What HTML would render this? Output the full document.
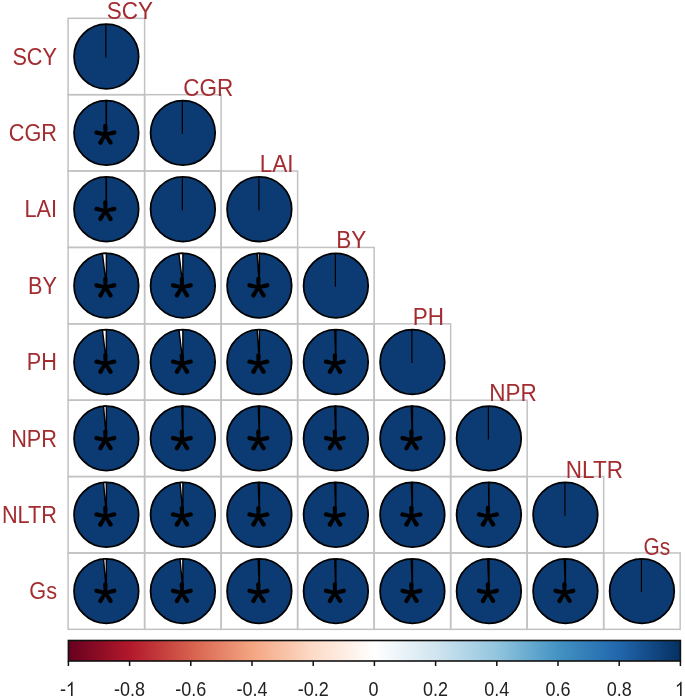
<!DOCTYPE html>
<html><head><meta charset="utf-8"><style>
html,body{margin:0;padding:0;background:#fff;}
body{width:685px;height:697px;overflow:hidden;}
svg{display:block;filter:blur(0.35px);}
.lab{font-family:"Liberation Sans",sans-serif;font-size:22.5px;fill:#a32c30;}
.star{font-family:"Liberation Sans",sans-serif;font-size:61px;fill:#000;stroke:#000;stroke-width:0.15px;}
.tick{font-family:"Liberation Sans",sans-serif;font-size:18px;fill:#222;}
</style></head><body>
<svg width="685" height="697" viewBox="0 0 685 697">
<defs><linearGradient id="g" x1="0" x2="1" y1="0" y2="0"><stop offset="0.00" stop-color="#67001F"/><stop offset="0.10" stop-color="#B2182B"/><stop offset="0.20" stop-color="#D6604D"/><stop offset="0.30" stop-color="#F4A582"/><stop offset="0.40" stop-color="#FDDBC7"/><stop offset="0.50" stop-color="#FFFFFF"/><stop offset="0.60" stop-color="#D1E5F0"/><stop offset="0.70" stop-color="#92C5DE"/><stop offset="0.80" stop-color="#4393C3"/><stop offset="0.90" stop-color="#2166AC"/><stop offset="1.00" stop-color="#053061"/></linearGradient></defs>
<rect width="685" height="697" fill="#fff"/>
<rect x="68.10" y="18.30" width="76.51" height="76.38" fill="none" stroke="#c2c2c2" stroke-width="1.5"/>
<rect x="68.10" y="94.68" width="76.51" height="76.38" fill="none" stroke="#c2c2c2" stroke-width="1.5"/>
<rect x="144.61" y="94.68" width="76.51" height="76.38" fill="none" stroke="#c2c2c2" stroke-width="1.5"/>
<rect x="68.10" y="171.06" width="76.51" height="76.38" fill="none" stroke="#c2c2c2" stroke-width="1.5"/>
<rect x="144.61" y="171.06" width="76.51" height="76.38" fill="none" stroke="#c2c2c2" stroke-width="1.5"/>
<rect x="221.12" y="171.06" width="76.51" height="76.38" fill="none" stroke="#c2c2c2" stroke-width="1.5"/>
<rect x="68.10" y="247.44" width="76.51" height="76.38" fill="none" stroke="#c2c2c2" stroke-width="1.5"/>
<rect x="144.61" y="247.44" width="76.51" height="76.38" fill="none" stroke="#c2c2c2" stroke-width="1.5"/>
<rect x="221.12" y="247.44" width="76.51" height="76.38" fill="none" stroke="#c2c2c2" stroke-width="1.5"/>
<rect x="297.63" y="247.44" width="76.51" height="76.38" fill="none" stroke="#c2c2c2" stroke-width="1.5"/>
<rect x="68.10" y="323.82" width="76.51" height="76.38" fill="none" stroke="#c2c2c2" stroke-width="1.5"/>
<rect x="144.61" y="323.82" width="76.51" height="76.38" fill="none" stroke="#c2c2c2" stroke-width="1.5"/>
<rect x="221.12" y="323.82" width="76.51" height="76.38" fill="none" stroke="#c2c2c2" stroke-width="1.5"/>
<rect x="297.63" y="323.82" width="76.51" height="76.38" fill="none" stroke="#c2c2c2" stroke-width="1.5"/>
<rect x="374.14" y="323.82" width="76.51" height="76.38" fill="none" stroke="#c2c2c2" stroke-width="1.5"/>
<rect x="68.10" y="400.20" width="76.51" height="76.38" fill="none" stroke="#c2c2c2" stroke-width="1.5"/>
<rect x="144.61" y="400.20" width="76.51" height="76.38" fill="none" stroke="#c2c2c2" stroke-width="1.5"/>
<rect x="221.12" y="400.20" width="76.51" height="76.38" fill="none" stroke="#c2c2c2" stroke-width="1.5"/>
<rect x="297.63" y="400.20" width="76.51" height="76.38" fill="none" stroke="#c2c2c2" stroke-width="1.5"/>
<rect x="374.14" y="400.20" width="76.51" height="76.38" fill="none" stroke="#c2c2c2" stroke-width="1.5"/>
<rect x="450.65" y="400.20" width="76.51" height="76.38" fill="none" stroke="#c2c2c2" stroke-width="1.5"/>
<rect x="68.10" y="476.58" width="76.51" height="76.38" fill="none" stroke="#c2c2c2" stroke-width="1.5"/>
<rect x="144.61" y="476.58" width="76.51" height="76.38" fill="none" stroke="#c2c2c2" stroke-width="1.5"/>
<rect x="221.12" y="476.58" width="76.51" height="76.38" fill="none" stroke="#c2c2c2" stroke-width="1.5"/>
<rect x="297.63" y="476.58" width="76.51" height="76.38" fill="none" stroke="#c2c2c2" stroke-width="1.5"/>
<rect x="374.14" y="476.58" width="76.51" height="76.38" fill="none" stroke="#c2c2c2" stroke-width="1.5"/>
<rect x="450.65" y="476.58" width="76.51" height="76.38" fill="none" stroke="#c2c2c2" stroke-width="1.5"/>
<rect x="527.16" y="476.58" width="76.51" height="76.38" fill="none" stroke="#c2c2c2" stroke-width="1.5"/>
<rect x="68.10" y="552.96" width="76.51" height="76.38" fill="none" stroke="#c2c2c2" stroke-width="1.5"/>
<rect x="144.61" y="552.96" width="76.51" height="76.38" fill="none" stroke="#c2c2c2" stroke-width="1.5"/>
<rect x="221.12" y="552.96" width="76.51" height="76.38" fill="none" stroke="#c2c2c2" stroke-width="1.5"/>
<rect x="297.63" y="552.96" width="76.51" height="76.38" fill="none" stroke="#c2c2c2" stroke-width="1.5"/>
<rect x="374.14" y="552.96" width="76.51" height="76.38" fill="none" stroke="#c2c2c2" stroke-width="1.5"/>
<rect x="450.65" y="552.96" width="76.51" height="76.38" fill="none" stroke="#c2c2c2" stroke-width="1.5"/>
<rect x="527.16" y="552.96" width="76.51" height="76.38" fill="none" stroke="#c2c2c2" stroke-width="1.5"/>
<rect x="603.67" y="552.96" width="76.51" height="76.38" fill="none" stroke="#c2c2c2" stroke-width="1.5"/>
<circle cx="106.35" cy="56.49" r="32.3" fill="#0c3a72" stroke="#000" stroke-width="1.75"/>
<path d="M105.85 57.49L105.85 24.19" stroke="#000" stroke-width="1.2"/>
<circle cx="106.35" cy="132.87" r="32.3" fill="#0c3a72" stroke="#000" stroke-width="1.75"/>
<path d="M106.35 132.87L106.35 100.57A32.3 32.3 0 0 0 106.07 100.57Z" fill="#fff" stroke="#000" stroke-width="1.45" stroke-linejoin="round"/>
<path d="M107.05 134.47L107.55 126.07A2.2 2.2 0 0 0 103.15 126.07L103.65 134.47ZM105.72 132.81L96.97 130.39A2.2 2.2 0 0 0 96.04 134.69L104.99 136.13ZM105.72 136.13L114.67 134.69A2.2 2.2 0 0 0 113.74 130.39L104.99 132.81ZM103.90 133.58L98.52 141.45A2.2 2.2 0 0 0 102.28 143.74L106.81 135.36ZM103.92 135.39L108.72 143.80A2.2 2.2 0 0 0 112.42 141.43L106.79 133.55Z" fill="#000"/><circle cx="105.35" cy="134.47" r="2.4" fill="#000"/>
<circle cx="182.87" cy="132.87" r="32.3" fill="#0c3a72" stroke="#000" stroke-width="1.75"/>
<path d="M182.37 133.87L182.37 100.57" stroke="#000" stroke-width="1.2"/>
<circle cx="106.35" cy="209.25" r="32.3" fill="#0c3a72" stroke="#000" stroke-width="1.75"/>
<path d="M106.35 209.25L106.35 176.95A32.3 32.3 0 0 0 106.07 176.95Z" fill="#fff" stroke="#000" stroke-width="1.45" stroke-linejoin="round"/>
<path d="M107.05 210.85L107.55 202.45A2.2 2.2 0 0 0 103.15 202.45L103.65 210.85ZM105.72 209.19L96.97 206.77A2.2 2.2 0 0 0 96.04 211.07L104.99 212.51ZM105.72 212.51L114.67 211.07A2.2 2.2 0 0 0 113.74 206.77L104.99 209.19ZM103.90 209.96L98.52 217.83A2.2 2.2 0 0 0 102.28 220.12L106.81 211.74ZM103.92 211.77L108.72 220.18A2.2 2.2 0 0 0 112.42 217.81L106.79 209.93Z" fill="#000"/><circle cx="105.35" cy="210.85" r="2.4" fill="#000"/>
<circle cx="182.87" cy="209.25" r="32.3" fill="#0c3a72" stroke="#000" stroke-width="1.75"/>
<path d="M182.37 210.25L182.37 176.95" stroke="#000" stroke-width="1.2"/>
<circle cx="259.38" cy="209.25" r="32.3" fill="#0c3a72" stroke="#000" stroke-width="1.75"/>
<path d="M258.88 210.25L258.88 176.95" stroke="#000" stroke-width="1.2"/>
<circle cx="106.35" cy="285.63" r="32.3" fill="#0c3a72" stroke="#000" stroke-width="1.75"/>
<path d="M106.35 285.63L106.35 253.33A32.3 32.3 0 0 0 102.42 253.57Z" fill="#fff" stroke="#000" stroke-width="1.45" stroke-linejoin="round"/>
<path d="M107.05 287.23L107.55 278.83A2.2 2.2 0 0 0 103.15 278.83L103.65 287.23ZM105.72 285.57L96.97 283.15A2.2 2.2 0 0 0 96.04 287.45L104.99 288.89ZM105.72 288.89L114.67 287.45A2.2 2.2 0 0 0 113.74 283.15L104.99 285.57ZM103.90 286.34L98.52 294.21A2.2 2.2 0 0 0 102.28 296.50L106.81 288.12ZM103.92 288.15L108.72 296.56A2.2 2.2 0 0 0 112.42 294.19L106.79 286.31Z" fill="#000"/><circle cx="105.35" cy="287.23" r="2.4" fill="#000"/>
<circle cx="182.87" cy="285.63" r="32.3" fill="#0c3a72" stroke="#000" stroke-width="1.75"/>
<path d="M182.87 285.63L182.87 253.33A32.3 32.3 0 0 0 178.93 253.57Z" fill="#fff" stroke="#000" stroke-width="1.45" stroke-linejoin="round"/>
<path d="M183.56 287.23L184.06 278.83A2.2 2.2 0 0 0 179.67 278.83L180.17 287.23ZM182.23 285.57L173.48 283.15A2.2 2.2 0 0 0 172.55 287.45L181.50 288.89ZM182.23 288.89L191.18 287.45A2.2 2.2 0 0 0 190.25 283.15L181.50 285.57ZM180.41 286.34L175.03 294.21A2.2 2.2 0 0 0 178.79 296.50L183.32 288.12ZM180.43 288.15L185.23 296.56A2.2 2.2 0 0 0 188.93 294.19L183.30 286.31Z" fill="#000"/><circle cx="181.87" cy="287.23" r="2.4" fill="#000"/>
<circle cx="259.38" cy="285.63" r="32.3" fill="#0c3a72" stroke="#000" stroke-width="1.75"/>
<path d="M259.38 285.63L259.38 253.33A32.3 32.3 0 0 0 257.12 253.41Z" fill="#fff" stroke="#000" stroke-width="1.45" stroke-linejoin="round"/>
<path d="M260.07 287.23L260.57 278.83A2.2 2.2 0 0 0 256.18 278.83L256.68 287.23ZM258.74 285.57L249.99 283.15A2.2 2.2 0 0 0 249.06 287.45L258.01 288.89ZM258.74 288.89L267.69 287.45A2.2 2.2 0 0 0 266.76 283.15L258.01 285.57ZM256.92 286.34L251.54 294.21A2.2 2.2 0 0 0 255.30 296.50L259.83 288.12ZM256.94 288.15L261.74 296.56A2.2 2.2 0 0 0 265.44 294.19L259.81 286.31Z" fill="#000"/><circle cx="258.38" cy="287.23" r="2.4" fill="#000"/>
<circle cx="335.88" cy="285.63" r="32.3" fill="#0c3a72" stroke="#000" stroke-width="1.75"/>
<path d="M335.38 286.63L335.38 253.33" stroke="#000" stroke-width="1.2"/>
<circle cx="106.35" cy="362.01" r="32.3" fill="#0c3a72" stroke="#000" stroke-width="1.75"/>
<path d="M106.35 362.01L106.35 329.71A32.3 32.3 0 0 0 102.42 329.95Z" fill="#fff" stroke="#000" stroke-width="1.45" stroke-linejoin="round"/>
<path d="M107.05 363.61L107.55 355.21A2.2 2.2 0 0 0 103.15 355.21L103.65 363.61ZM105.72 361.95L96.97 359.53A2.2 2.2 0 0 0 96.04 363.83L104.99 365.27ZM105.72 365.27L114.67 363.83A2.2 2.2 0 0 0 113.74 359.53L104.99 361.95ZM103.90 362.72L98.52 370.59A2.2 2.2 0 0 0 102.28 372.88L106.81 364.50ZM103.92 364.53L108.72 372.94A2.2 2.2 0 0 0 112.42 370.57L106.79 362.69Z" fill="#000"/><circle cx="105.35" cy="363.61" r="2.4" fill="#000"/>
<circle cx="182.87" cy="362.01" r="32.3" fill="#0c3a72" stroke="#000" stroke-width="1.75"/>
<path d="M182.87 362.01L182.87 329.71A32.3 32.3 0 0 0 178.93 329.95Z" fill="#fff" stroke="#000" stroke-width="1.45" stroke-linejoin="round"/>
<path d="M183.56 363.61L184.06 355.21A2.2 2.2 0 0 0 179.67 355.21L180.17 363.61ZM182.23 361.95L173.48 359.53A2.2 2.2 0 0 0 172.55 363.83L181.50 365.27ZM182.23 365.27L191.18 363.83A2.2 2.2 0 0 0 190.25 359.53L181.50 361.95ZM180.41 362.72L175.03 370.59A2.2 2.2 0 0 0 178.79 372.88L183.32 364.50ZM180.43 364.53L185.23 372.94A2.2 2.2 0 0 0 188.93 370.57L183.30 362.69Z" fill="#000"/><circle cx="181.87" cy="363.61" r="2.4" fill="#000"/>
<circle cx="259.38" cy="362.01" r="32.3" fill="#0c3a72" stroke="#000" stroke-width="1.75"/>
<path d="M259.38 362.01L259.38 329.71A32.3 32.3 0 0 0 257.12 329.79Z" fill="#fff" stroke="#000" stroke-width="1.45" stroke-linejoin="round"/>
<path d="M260.07 363.61L260.57 355.21A2.2 2.2 0 0 0 256.18 355.21L256.68 363.61ZM258.74 361.95L249.99 359.53A2.2 2.2 0 0 0 249.06 363.83L258.01 365.27ZM258.74 365.27L267.69 363.83A2.2 2.2 0 0 0 266.76 359.53L258.01 361.95ZM256.92 362.72L251.54 370.59A2.2 2.2 0 0 0 255.30 372.88L259.83 364.50ZM256.94 364.53L261.74 372.94A2.2 2.2 0 0 0 265.44 370.57L259.81 362.69Z" fill="#000"/><circle cx="258.38" cy="363.61" r="2.4" fill="#000"/>
<circle cx="335.88" cy="362.01" r="32.3" fill="#0c3a72" stroke="#000" stroke-width="1.75"/>
<path d="M335.88 362.01L335.88 329.71A32.3 32.3 0 0 0 334.76 329.73Z" fill="#fff" stroke="#000" stroke-width="1.45" stroke-linejoin="round"/>
<path d="M336.58 363.61L337.08 355.21A2.2 2.2 0 0 0 332.69 355.21L333.19 363.61ZM335.25 361.95L326.50 359.53A2.2 2.2 0 0 0 325.57 363.83L334.52 365.27ZM335.25 365.27L344.20 363.83A2.2 2.2 0 0 0 343.27 359.53L334.52 361.95ZM333.43 362.72L328.05 370.59A2.2 2.2 0 0 0 331.81 372.88L336.34 364.50ZM333.45 364.53L338.25 372.94A2.2 2.2 0 0 0 341.95 370.57L336.32 362.69Z" fill="#000"/><circle cx="334.88" cy="363.61" r="2.4" fill="#000"/>
<circle cx="412.39" cy="362.01" r="32.3" fill="#0c3a72" stroke="#000" stroke-width="1.75"/>
<path d="M411.89 363.01L411.89 329.71" stroke="#000" stroke-width="1.2"/>
<circle cx="106.35" cy="438.39" r="32.3" fill="#0c3a72" stroke="#000" stroke-width="1.75"/>
<path d="M106.35 438.39L106.35 406.09A32.3 32.3 0 0 0 103.54 406.21Z" fill="#fff" stroke="#000" stroke-width="1.45" stroke-linejoin="round"/>
<path d="M107.05 439.99L107.55 431.59A2.2 2.2 0 0 0 103.15 431.59L103.65 439.99ZM105.72 438.33L96.97 435.91A2.2 2.2 0 0 0 96.04 440.21L104.99 441.65ZM105.72 441.65L114.67 440.21A2.2 2.2 0 0 0 113.74 435.91L104.99 438.33ZM103.90 439.10L98.52 446.97A2.2 2.2 0 0 0 102.28 449.26L106.81 440.88ZM103.92 440.91L108.72 449.32A2.2 2.2 0 0 0 112.42 446.95L106.79 439.07Z" fill="#000"/><circle cx="105.35" cy="439.99" r="2.4" fill="#000"/>
<circle cx="182.87" cy="438.39" r="32.3" fill="#0c3a72" stroke="#000" stroke-width="1.75"/>
<path d="M182.87 438.39L182.87 406.09A32.3 32.3 0 0 0 181.74 406.11Z" fill="#fff" stroke="#000" stroke-width="1.45" stroke-linejoin="round"/>
<path d="M183.56 439.99L184.06 431.59A2.2 2.2 0 0 0 179.67 431.59L180.17 439.99ZM182.23 438.33L173.48 435.91A2.2 2.2 0 0 0 172.55 440.21L181.50 441.65ZM182.23 441.65L191.18 440.21A2.2 2.2 0 0 0 190.25 435.91L181.50 438.33ZM180.41 439.10L175.03 446.97A2.2 2.2 0 0 0 178.79 449.26L183.32 440.88ZM180.43 440.91L185.23 449.32A2.2 2.2 0 0 0 188.93 446.95L183.30 439.07Z" fill="#000"/><circle cx="181.87" cy="439.99" r="2.4" fill="#000"/>
<circle cx="259.38" cy="438.39" r="32.3" fill="#0c3a72" stroke="#000" stroke-width="1.75"/>
<path d="M259.38 438.39L259.38 406.09A32.3 32.3 0 0 0 258.25 406.11Z" fill="#fff" stroke="#000" stroke-width="1.45" stroke-linejoin="round"/>
<path d="M260.07 439.99L260.57 431.59A2.2 2.2 0 0 0 256.18 431.59L256.68 439.99ZM258.74 438.33L249.99 435.91A2.2 2.2 0 0 0 249.06 440.21L258.01 441.65ZM258.74 441.65L267.69 440.21A2.2 2.2 0 0 0 266.76 435.91L258.01 438.33ZM256.92 439.10L251.54 446.97A2.2 2.2 0 0 0 255.30 449.26L259.83 440.88ZM256.94 440.91L261.74 449.32A2.2 2.2 0 0 0 265.44 446.95L259.81 439.07Z" fill="#000"/><circle cx="258.38" cy="439.99" r="2.4" fill="#000"/>
<circle cx="335.88" cy="438.39" r="32.3" fill="#0c3a72" stroke="#000" stroke-width="1.75"/>
<path d="M335.88 438.39L335.88 406.09A32.3 32.3 0 0 0 334.76 406.11Z" fill="#fff" stroke="#000" stroke-width="1.45" stroke-linejoin="round"/>
<path d="M336.58 439.99L337.08 431.59A2.2 2.2 0 0 0 332.69 431.59L333.19 439.99ZM335.25 438.33L326.50 435.91A2.2 2.2 0 0 0 325.57 440.21L334.52 441.65ZM335.25 441.65L344.20 440.21A2.2 2.2 0 0 0 343.27 435.91L334.52 438.33ZM333.43 439.10L328.05 446.97A2.2 2.2 0 0 0 331.81 449.26L336.34 440.88ZM333.45 440.91L338.25 449.32A2.2 2.2 0 0 0 341.95 446.95L336.32 439.07Z" fill="#000"/><circle cx="334.88" cy="439.99" r="2.4" fill="#000"/>
<circle cx="412.39" cy="438.39" r="32.3" fill="#0c3a72" stroke="#000" stroke-width="1.75"/>
<path d="M412.39 438.39L412.39 406.09A32.3 32.3 0 0 0 411.27 406.11Z" fill="#fff" stroke="#000" stroke-width="1.45" stroke-linejoin="round"/>
<path d="M413.09 439.99L413.59 431.59A2.2 2.2 0 0 0 409.19 431.59L409.69 439.99ZM411.76 438.33L403.01 435.91A2.2 2.2 0 0 0 402.08 440.21L411.03 441.65ZM411.76 441.65L420.71 440.21A2.2 2.2 0 0 0 419.78 435.91L411.03 438.33ZM409.94 439.10L404.56 446.97A2.2 2.2 0 0 0 408.32 449.26L412.85 440.88ZM409.96 440.91L414.76 449.32A2.2 2.2 0 0 0 418.46 446.95L412.83 439.07Z" fill="#000"/><circle cx="411.39" cy="439.99" r="2.4" fill="#000"/>
<circle cx="488.90" cy="438.39" r="32.3" fill="#0c3a72" stroke="#000" stroke-width="1.75"/>
<path d="M488.40 439.39L488.40 406.09" stroke="#000" stroke-width="1.2"/>
<circle cx="106.35" cy="514.77" r="32.3" fill="#0c3a72" stroke="#000" stroke-width="1.75"/>
<path d="M106.35 514.77L106.35 482.47A32.3 32.3 0 0 0 103.54 482.59Z" fill="#fff" stroke="#000" stroke-width="1.45" stroke-linejoin="round"/>
<path d="M107.05 516.37L107.55 507.97A2.2 2.2 0 0 0 103.15 507.97L103.65 516.37ZM105.72 514.71L96.97 512.29A2.2 2.2 0 0 0 96.04 516.59L104.99 518.03ZM105.72 518.03L114.67 516.59A2.2 2.2 0 0 0 113.74 512.29L104.99 514.71ZM103.90 515.48L98.52 523.35A2.2 2.2 0 0 0 102.28 525.64L106.81 517.26ZM103.92 517.29L108.72 525.70A2.2 2.2 0 0 0 112.42 523.33L106.79 515.45Z" fill="#000"/><circle cx="105.35" cy="516.37" r="2.4" fill="#000"/>
<circle cx="182.87" cy="514.77" r="32.3" fill="#0c3a72" stroke="#000" stroke-width="1.75"/>
<path d="M182.87 514.77L182.87 482.47A32.3 32.3 0 0 0 180.05 482.59Z" fill="#fff" stroke="#000" stroke-width="1.45" stroke-linejoin="round"/>
<path d="M183.56 516.37L184.06 507.97A2.2 2.2 0 0 0 179.67 507.97L180.17 516.37ZM182.23 514.71L173.48 512.29A2.2 2.2 0 0 0 172.55 516.59L181.50 518.03ZM182.23 518.03L191.18 516.59A2.2 2.2 0 0 0 190.25 512.29L181.50 514.71ZM180.41 515.48L175.03 523.35A2.2 2.2 0 0 0 178.79 525.64L183.32 517.26ZM180.43 517.29L185.23 525.70A2.2 2.2 0 0 0 188.93 523.33L183.30 515.45Z" fill="#000"/><circle cx="181.87" cy="516.37" r="2.4" fill="#000"/>
<circle cx="259.38" cy="514.77" r="32.3" fill="#0c3a72" stroke="#000" stroke-width="1.75"/>
<path d="M259.38 514.77L259.38 482.47A32.3 32.3 0 0 0 258.25 482.49Z" fill="#fff" stroke="#000" stroke-width="1.45" stroke-linejoin="round"/>
<path d="M260.07 516.37L260.57 507.97A2.2 2.2 0 0 0 256.18 507.97L256.68 516.37ZM258.74 514.71L249.99 512.29A2.2 2.2 0 0 0 249.06 516.59L258.01 518.03ZM258.74 518.03L267.69 516.59A2.2 2.2 0 0 0 266.76 512.29L258.01 514.71ZM256.92 515.48L251.54 523.35A2.2 2.2 0 0 0 255.30 525.64L259.83 517.26ZM256.94 517.29L261.74 525.70A2.2 2.2 0 0 0 265.44 523.33L259.81 515.45Z" fill="#000"/><circle cx="258.38" cy="516.37" r="2.4" fill="#000"/>
<circle cx="335.88" cy="514.77" r="32.3" fill="#0c3a72" stroke="#000" stroke-width="1.75"/>
<path d="M335.88 514.77L335.88 482.47A32.3 32.3 0 0 0 334.76 482.49Z" fill="#fff" stroke="#000" stroke-width="1.45" stroke-linejoin="round"/>
<path d="M336.58 516.37L337.08 507.97A2.2 2.2 0 0 0 332.69 507.97L333.19 516.37ZM335.25 514.71L326.50 512.29A2.2 2.2 0 0 0 325.57 516.59L334.52 518.03ZM335.25 518.03L344.20 516.59A2.2 2.2 0 0 0 343.27 512.29L334.52 514.71ZM333.43 515.48L328.05 523.35A2.2 2.2 0 0 0 331.81 525.64L336.34 517.26ZM333.45 517.29L338.25 525.70A2.2 2.2 0 0 0 341.95 523.33L336.32 515.45Z" fill="#000"/><circle cx="334.88" cy="516.37" r="2.4" fill="#000"/>
<circle cx="412.39" cy="514.77" r="32.3" fill="#0c3a72" stroke="#000" stroke-width="1.75"/>
<path d="M412.39 514.77L412.39 482.47A32.3 32.3 0 0 0 411.27 482.49Z" fill="#fff" stroke="#000" stroke-width="1.45" stroke-linejoin="round"/>
<path d="M413.09 516.37L413.59 507.97A2.2 2.2 0 0 0 409.19 507.97L409.69 516.37ZM411.76 514.71L403.01 512.29A2.2 2.2 0 0 0 402.08 516.59L411.03 518.03ZM411.76 518.03L420.71 516.59A2.2 2.2 0 0 0 419.78 512.29L411.03 514.71ZM409.94 515.48L404.56 523.35A2.2 2.2 0 0 0 408.32 525.64L412.85 517.26ZM409.96 517.29L414.76 525.70A2.2 2.2 0 0 0 418.46 523.33L412.83 515.45Z" fill="#000"/><circle cx="411.39" cy="516.37" r="2.4" fill="#000"/>
<circle cx="488.90" cy="514.77" r="32.3" fill="#0c3a72" stroke="#000" stroke-width="1.75"/>
<path d="M488.90 514.77L488.90 482.47A32.3 32.3 0 0 0 488.62 482.47Z" fill="#fff" stroke="#000" stroke-width="1.45" stroke-linejoin="round"/>
<path d="M489.60 516.37L490.10 507.97A2.2 2.2 0 0 0 485.70 507.97L486.20 516.37ZM488.27 514.71L479.52 512.29A2.2 2.2 0 0 0 478.59 516.59L487.54 518.03ZM488.27 518.03L497.22 516.59A2.2 2.2 0 0 0 496.29 512.29L487.54 514.71ZM486.45 515.48L481.07 523.35A2.2 2.2 0 0 0 484.83 525.64L489.36 517.26ZM486.47 517.29L491.27 525.70A2.2 2.2 0 0 0 494.97 523.33L489.34 515.45Z" fill="#000"/><circle cx="487.90" cy="516.37" r="2.4" fill="#000"/>
<circle cx="565.42" cy="514.77" r="32.3" fill="#0c3a72" stroke="#000" stroke-width="1.75"/>
<path d="M564.92 515.77L564.92 482.47" stroke="#000" stroke-width="1.2"/>
<circle cx="106.35" cy="591.15" r="32.3" fill="#0c3a72" stroke="#000" stroke-width="1.75"/>
<path d="M106.35 591.15L106.35 558.85A32.3 32.3 0 0 0 103.54 558.97Z" fill="#fff" stroke="#000" stroke-width="1.45" stroke-linejoin="round"/>
<path d="M107.05 592.75L107.55 584.35A2.2 2.2 0 0 0 103.15 584.35L103.65 592.75ZM105.72 591.09L96.97 588.67A2.2 2.2 0 0 0 96.04 592.97L104.99 594.41ZM105.72 594.41L114.67 592.97A2.2 2.2 0 0 0 113.74 588.67L104.99 591.09ZM103.90 591.86L98.52 599.73A2.2 2.2 0 0 0 102.28 602.02L106.81 593.64ZM103.92 593.67L108.72 602.08A2.2 2.2 0 0 0 112.42 599.71L106.79 591.83Z" fill="#000"/><circle cx="105.35" cy="592.75" r="2.4" fill="#000"/>
<circle cx="182.87" cy="591.15" r="32.3" fill="#0c3a72" stroke="#000" stroke-width="1.75"/>
<path d="M182.87 591.15L182.87 558.85A32.3 32.3 0 0 0 180.05 558.97Z" fill="#fff" stroke="#000" stroke-width="1.45" stroke-linejoin="round"/>
<path d="M183.56 592.75L184.06 584.35A2.2 2.2 0 0 0 179.67 584.35L180.17 592.75ZM182.23 591.09L173.48 588.67A2.2 2.2 0 0 0 172.55 592.97L181.50 594.41ZM182.23 594.41L191.18 592.97A2.2 2.2 0 0 0 190.25 588.67L181.50 591.09ZM180.41 591.86L175.03 599.73A2.2 2.2 0 0 0 178.79 602.02L183.32 593.64ZM180.43 593.67L185.23 602.08A2.2 2.2 0 0 0 188.93 599.71L183.30 591.83Z" fill="#000"/><circle cx="181.87" cy="592.75" r="2.4" fill="#000"/>
<circle cx="259.38" cy="591.15" r="32.3" fill="#0c3a72" stroke="#000" stroke-width="1.75"/>
<path d="M259.38 591.15L259.38 558.85A32.3 32.3 0 0 0 258.25 558.87Z" fill="#fff" stroke="#000" stroke-width="1.45" stroke-linejoin="round"/>
<path d="M260.07 592.75L260.57 584.35A2.2 2.2 0 0 0 256.18 584.35L256.68 592.75ZM258.74 591.09L249.99 588.67A2.2 2.2 0 0 0 249.06 592.97L258.01 594.41ZM258.74 594.41L267.69 592.97A2.2 2.2 0 0 0 266.76 588.67L258.01 591.09ZM256.92 591.86L251.54 599.73A2.2 2.2 0 0 0 255.30 602.02L259.83 593.64ZM256.94 593.67L261.74 602.08A2.2 2.2 0 0 0 265.44 599.71L259.81 591.83Z" fill="#000"/><circle cx="258.38" cy="592.75" r="2.4" fill="#000"/>
<circle cx="335.88" cy="591.15" r="32.3" fill="#0c3a72" stroke="#000" stroke-width="1.75"/>
<path d="M335.88 591.15L335.88 558.85A32.3 32.3 0 0 0 334.76 558.87Z" fill="#fff" stroke="#000" stroke-width="1.45" stroke-linejoin="round"/>
<path d="M336.58 592.75L337.08 584.35A2.2 2.2 0 0 0 332.69 584.35L333.19 592.75ZM335.25 591.09L326.50 588.67A2.2 2.2 0 0 0 325.57 592.97L334.52 594.41ZM335.25 594.41L344.20 592.97A2.2 2.2 0 0 0 343.27 588.67L334.52 591.09ZM333.43 591.86L328.05 599.73A2.2 2.2 0 0 0 331.81 602.02L336.34 593.64ZM333.45 593.67L338.25 602.08A2.2 2.2 0 0 0 341.95 599.71L336.32 591.83Z" fill="#000"/><circle cx="334.88" cy="592.75" r="2.4" fill="#000"/>
<circle cx="412.39" cy="591.15" r="32.3" fill="#0c3a72" stroke="#000" stroke-width="1.75"/>
<path d="M412.39 591.15L412.39 558.85A32.3 32.3 0 0 0 411.27 558.87Z" fill="#fff" stroke="#000" stroke-width="1.45" stroke-linejoin="round"/>
<path d="M413.09 592.75L413.59 584.35A2.2 2.2 0 0 0 409.19 584.35L409.69 592.75ZM411.76 591.09L403.01 588.67A2.2 2.2 0 0 0 402.08 592.97L411.03 594.41ZM411.76 594.41L420.71 592.97A2.2 2.2 0 0 0 419.78 588.67L411.03 591.09ZM409.94 591.86L404.56 599.73A2.2 2.2 0 0 0 408.32 602.02L412.85 593.64ZM409.96 593.67L414.76 602.08A2.2 2.2 0 0 0 418.46 599.71L412.83 591.83Z" fill="#000"/><circle cx="411.39" cy="592.75" r="2.4" fill="#000"/>
<circle cx="488.90" cy="591.15" r="32.3" fill="#0c3a72" stroke="#000" stroke-width="1.75"/>
<path d="M488.90 591.15L488.90 558.85A32.3 32.3 0 0 0 487.78 558.87Z" fill="#fff" stroke="#000" stroke-width="1.45" stroke-linejoin="round"/>
<path d="M489.60 592.75L490.10 584.35A2.2 2.2 0 0 0 485.70 584.35L486.20 592.75ZM488.27 591.09L479.52 588.67A2.2 2.2 0 0 0 478.59 592.97L487.54 594.41ZM488.27 594.41L497.22 592.97A2.2 2.2 0 0 0 496.29 588.67L487.54 591.09ZM486.45 591.86L481.07 599.73A2.2 2.2 0 0 0 484.83 602.02L489.36 593.64ZM486.47 593.67L491.27 602.08A2.2 2.2 0 0 0 494.97 599.71L489.34 591.83Z" fill="#000"/><circle cx="487.90" cy="592.75" r="2.4" fill="#000"/>
<circle cx="565.42" cy="591.15" r="32.3" fill="#0c3a72" stroke="#000" stroke-width="1.75"/>
<path d="M565.42 591.15L565.42 558.85A32.3 32.3 0 0 0 564.29 558.87Z" fill="#fff" stroke="#000" stroke-width="1.45" stroke-linejoin="round"/>
<path d="M566.12 592.75L566.62 584.35A2.2 2.2 0 0 0 562.22 584.35L562.72 592.75ZM564.78 591.09L556.03 588.67A2.2 2.2 0 0 0 555.10 592.97L564.05 594.41ZM564.78 594.41L573.73 592.97A2.2 2.2 0 0 0 572.80 588.67L564.05 591.09ZM562.96 591.86L557.58 599.73A2.2 2.2 0 0 0 561.34 602.02L565.87 593.64ZM562.98 593.67L567.78 602.08A2.2 2.2 0 0 0 571.48 599.71L565.85 591.83Z" fill="#000"/><circle cx="564.42" cy="592.75" r="2.4" fill="#000"/>
<circle cx="641.93" cy="591.15" r="32.3" fill="#0c3a72" stroke="#000" stroke-width="1.75"/>
<path d="M641.43 592.15L641.43 558.85" stroke="#000" stroke-width="1.2"/>
<text transform="translate(57.00,64.67) scale(0.965,1.07)" text-anchor="end" class="lab">SCY</text>
<text transform="translate(106.75,19.30) scale(1.0,1.04)" text-anchor="start" class="lab">SCY</text>
<text transform="translate(57.00,141.05) scale(0.965,1.07)" text-anchor="end" class="lab">CGR</text>
<text transform="translate(183.27,95.68) scale(1.0,1.04)" text-anchor="start" class="lab">CGR</text>
<text transform="translate(57.00,217.43) scale(0.965,1.07)" text-anchor="end" class="lab">LAI</text>
<text transform="translate(259.77,172.06) scale(1.0,1.04)" text-anchor="start" class="lab">LAI</text>
<text transform="translate(57.00,293.81) scale(0.965,1.07)" text-anchor="end" class="lab">BY</text>
<text transform="translate(336.28,248.44) scale(1.0,1.04)" text-anchor="start" class="lab">BY</text>
<text transform="translate(57.00,370.19) scale(0.965,1.07)" text-anchor="end" class="lab">PH</text>
<text transform="translate(412.79,324.82) scale(1.0,1.04)" text-anchor="start" class="lab">PH</text>
<text transform="translate(57.00,446.57) scale(0.965,1.07)" text-anchor="end" class="lab">NPR</text>
<text transform="translate(489.30,401.20) scale(1.0,1.04)" text-anchor="start" class="lab">NPR</text>
<text transform="translate(57.00,522.95) scale(0.965,1.07)" text-anchor="end" class="lab">NLTR</text>
<text transform="translate(565.82,477.58) scale(1.0,1.04)" text-anchor="start" class="lab">NLTR</text>
<text transform="translate(57.00,599.33) scale(0.965,1.07)" text-anchor="end" class="lab">Gs</text>
<text transform="translate(643.53,554.76) scale(0.93,1.04)" text-anchor="start" class="lab">Gs</text>
<rect x="68.4" y="640.5" width="612.0" height="20.5" fill="url(#g)" stroke="#111" stroke-width="1.6"/>
<line x1="68.40" y1="661.0" x2="68.40" y2="666.00" stroke="#111" stroke-width="1.5"/>
<text transform="translate(59.90,695.9) scale(1,1.1)" class="tick">-</text>
<path transform="translate(65.89,695.9) scale(0.008789,-0.009668)" d="M763 0L583 0L583 1147C540 1106 483 1064 413 1024C343 983 280 953 224 932L224 1106C325 1154 413 1212 488 1279C563 1346 616 1412 647 1476L763 1476Z" fill="#222"/>
<line x1="129.60" y1="661.0" x2="129.60" y2="666.00" stroke="#111" stroke-width="1.5"/>
<text transform="translate(129.60,695.9) scale(1,1.1)" text-anchor="middle" class="tick">-0.8</text>
<line x1="190.80" y1="661.0" x2="190.80" y2="666.00" stroke="#111" stroke-width="1.5"/>
<text transform="translate(190.80,695.9) scale(1,1.1)" text-anchor="middle" class="tick">-0.6</text>
<line x1="252.00" y1="661.0" x2="252.00" y2="666.00" stroke="#111" stroke-width="1.5"/>
<text transform="translate(252.00,695.9) scale(1,1.1)" text-anchor="middle" class="tick">-0.4</text>
<line x1="313.20" y1="661.0" x2="313.20" y2="666.00" stroke="#111" stroke-width="1.5"/>
<text transform="translate(313.20,695.9) scale(1,1.1)" text-anchor="middle" class="tick">-0.2</text>
<line x1="374.40" y1="661.0" x2="374.40" y2="666.00" stroke="#111" stroke-width="1.5"/>
<text transform="translate(373.40,695.9) scale(1,1.1)" text-anchor="middle" class="tick">0</text>
<line x1="435.60" y1="661.0" x2="435.60" y2="666.00" stroke="#111" stroke-width="1.5"/>
<text transform="translate(435.60,695.9) scale(1,1.1)" text-anchor="middle" class="tick">0.2</text>
<line x1="496.80" y1="661.0" x2="496.80" y2="666.00" stroke="#111" stroke-width="1.5"/>
<text transform="translate(496.80,695.9) scale(1,1.1)" text-anchor="middle" class="tick">0.4</text>
<line x1="558.00" y1="661.0" x2="558.00" y2="666.00" stroke="#111" stroke-width="1.5"/>
<text transform="translate(558.00,695.9) scale(1,1.1)" text-anchor="middle" class="tick">0.6</text>
<line x1="619.20" y1="661.0" x2="619.20" y2="666.00" stroke="#111" stroke-width="1.5"/>
<text transform="translate(619.20,695.9) scale(1,1.1)" text-anchor="middle" class="tick">0.8</text>
<line x1="680.40" y1="661.0" x2="680.40" y2="666.00" stroke="#111" stroke-width="1.5"/>
<path transform="translate(674.89,695.9) scale(0.008789,-0.009668)" d="M763 0L583 0L583 1147C540 1106 483 1064 413 1024C343 983 280 953 224 932L224 1106C325 1154 413 1212 488 1279C563 1346 616 1412 647 1476L763 1476Z" fill="#222"/>
</svg>
</body></html>
